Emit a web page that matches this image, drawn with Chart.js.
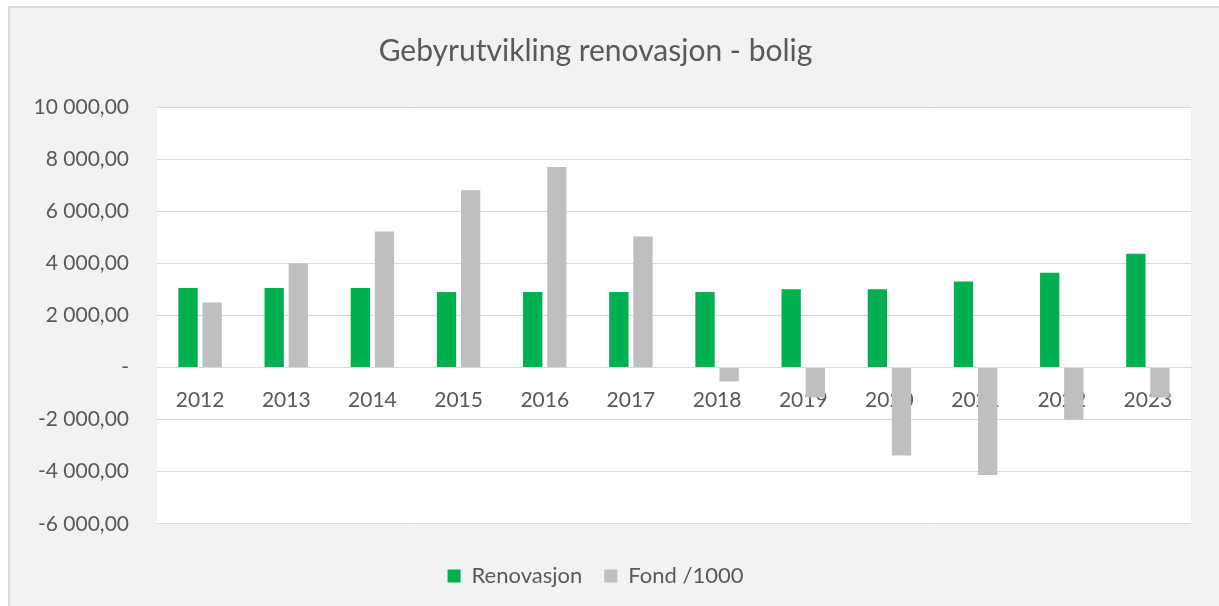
<!DOCTYPE html>
<html>
<head>
<meta charset="utf-8">
<script src="https://cdn.jsdelivr.net/npm/chart.js@4"></script>
<style>
  html, body { margin: 0; padding: 0; background: #ffffff; }
  #frame {
    position: absolute; left: 8px; top: 6px; width: 1211px; height: 600px;
    background: #f2f2f2; border-left: 2px solid #dadada; border-top: 2px solid #dadada;
    box-sizing: border-box;
  }
  #wrap { position: absolute; left: 0; top: 0; width: 1219px; height: 606px; }
</style>
</head>
<body>
<div id="frame"></div>
<div id="wrap"><canvas id="chart"></canvas></div>
<script>
// values
const years = ['2012', '2013', '2014', '2015', '2016', '2017', '2018', '2019', '2020', '2021', '2022', '2023'];
const renovasjon = [3050, 3050, 3050, 2900, 2900, 2900, 2900, 3000, 3000, 3300, 3640, 4370];
const fond = [2500, 4000, 5220, 6800, 7700, 5030, -540, -1150, -3380, -4130, -2010, -1150];
const yMin = -6000, yMax = 10000, yStep = 2000;

const textColor = '#595959';
const gridColor = '#d9d9d9';

function fmt(v) {
    if (v === 0) return '-';
    const neg = v < 0;
    const s = Math.abs(v).toFixed(0).replace(/\B(?=(\d{3})+(?!\d))/g, ' ');
    return (neg ? '-' : '') + s + ',00';
}

// white plot area on the grey chart background
const plotBg = {
    id: 'plotBg',
    beforeDraw(chart) {
        const a = chart.chartArea;
        const ctx = chart.ctx;
        ctx.save();
        ctx.fillStyle = '#ffffff';
        ctx.fillRect(a.left, a.top, a.right - a.left, a.bottom - a.top);
        ctx.restore();
    }
};

Chart.defaults.font.family = 'Lato, "Open Sans", sans-serif';
Chart.defaults.color = textColor;

new Chart(document.getElementById('chart'), {
    type: 'bar',
    data: {
        labels: years,
        datasets: [{
            label: 'Renovasjon',
            data: renovasjon,
            backgroundColor: '#00b050',
            categoryPercentage: 0.56,
            barPercentage: 0.8
        }, {
            label: 'Fond /1000',
            data: fond,
            backgroundColor: '#bfbfbf',
            categoryPercentage: 0.56,
            barPercentage: 0.8
        }]
    },
    options: {
        responsive: true,
        maintainAspectRatio: false,
        animation: false,
        layout: { padding: { left: 0, right: 28, top: 0, bottom: 9 } },
        scales: {
            x: {
                position: { y: 0 },
                grid: { display: false, drawTicks: false },
                border: { color: gridColor },
                ticks: { padding: 20, font: { size: 21 }, color: textColor, maxRotation: 0 }
            },
            y: {
                min: yMin,
                max: yMax,
                afterFit(scale) { scale.width = 157; },
                grid: { color: gridColor, drawTicks: false },
                border: { display: false },
                ticks: {
                    stepSize: yStep,
                    padding: 28,
                    font: { size: 21 },
                    color: textColor,
                    callback: v => fmt(v)
                }
            }
        },
        plugins: {
            title: {
                display: true,
                text: 'Gebyrutvikling renovasjon - bolig',
                color: textColor,
                font: { size: 30, weight: 'normal' },
                padding: { top: 33, bottom: 38 }
            },
            legend: {
                position: 'bottom',
                title: { display: true, text: ' ', font: { size: 1 }, padding: { top: 18, bottom: 0 } },
                labels: { boxWidth: 13, boxHeight: 13, font: { size: 22 }, color: textColor, padding: 22 }
            },
            tooltip: { enabled: false }
        }
    },
    plugins: [plotBg]
});
</script>
</body>
</html>
